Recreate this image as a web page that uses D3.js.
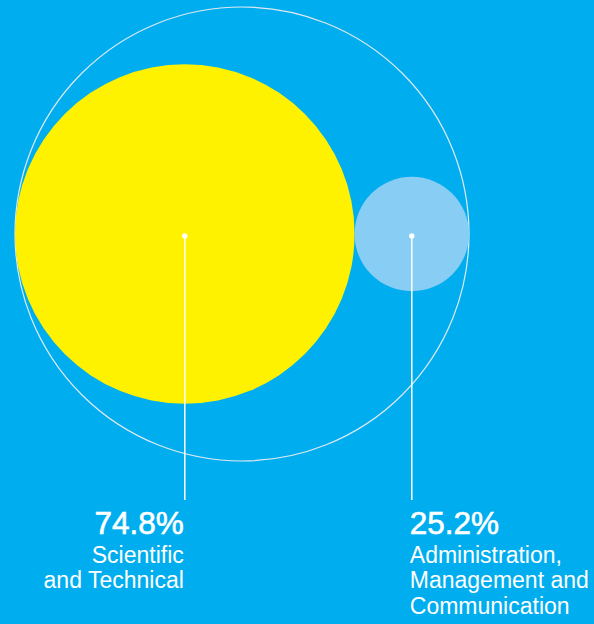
<!DOCTYPE html>
<html>
<head>
<meta charset="utf-8">
<script src="https://cdn.jsdelivr.net/npm/d3@7"></script>
<style>
	html, body { margin: 0; padding: 0; background: #00aeef; }
	svg { display: block; }
</style>
</head>
<body>
<div id="chart"></div>
<script>
/* Data */
const categories = ["Scientific and Technical", "Administration, Management and Communication"];
const shares = [74.8, 25.2];
const labelLines = [["Scientific", "and Technical"], ["Administration,", "Management and", "Communication"]];
const colors = ["#fff200", "#88cdf3"];

const width = 594;
const height = 624;
const cx = 242;
const cy = 234;
const outerR = 227;

const svg = d3.select("#chart").append("svg")
	.attr("width", width)
	.attr("height", height);

// radius proportional to share, diameters add up to outer diameter
const rScale = d3.scaleLinear().domain([0, 100]).range([0, outerR]);

svg.append("circle")
	.attr("cx", cx)
	.attr("cy", cy)
	.attr("r", outerR)
	.attr("fill", "none")
	.attr("stroke", "#dfe9f0")
	.attr("stroke-width", 1.2);

let left = cx - outerR;
const nodes = shares.map((v, i) => {
	const r = rScale(v);
	const n = { value: v, r: r, x: left + r, i: i };
	left += 2 * r;
	return n;
});

svg.selectAll(".bubble")
	.data(nodes)
	.enter()
	.append("circle")
	.attr("class", "bubble")
	.attr("cx", (d) => d.x)
	.attr("cy", cy)
	.attr("r", (d) => d.r)
	.attr("fill", (d) => colors[d.i]);

const lineEnd = 500;

svg.selectAll(".leader")
	.data(nodes)
	.enter()
	.append("line")
	.attr("class", "leader")
	.attr("x1", (d) => d.x)
	.attr("x2", (d) => d.x)
	.attr("y1", cy + 2)
	.attr("y2", lineEnd)
	.attr("stroke", "#fff")
	.attr("stroke-width", 1.5);

svg.selectAll(".dot")
	.data(nodes)
	.enter()
	.append("circle")
	.attr("class", "dot")
	.attr("cx", (d) => d.x)
	.attr("cy", cy + 2)
	.attr("r", 2.7)
	.attr("fill", "#fff");

const labels = svg.selectAll(".label")
	.data(nodes)
	.enter()
	.append("g")
	.attr("class", "label")
	.attr("transform", (d) => "translate(" + (d.i === 0 ? d.x - 1 : d.x - 2) + ",0)")
	.attr("text-anchor", (d) => d.i === 0 ? "end" : "start")
	.attr("fill", "#fff")
	.attr("font-family", "'Liberation Sans', Arial, sans-serif");

// percentages are a touch heavier than the labels
labels.append("text")
	.attr("y", 534)
	.attr("font-size", 31.5)
	.attr("stroke", "#fff")
	.attr("stroke-width", 0.6)
	.text((d) => d3.format(".1f")(d.value) + "%");

labels.each(function(d) {
	const g = d3.select(this);
	labelLines[d.i].forEach((line, j) => {
		g.append("text")
			.attr("y", 562.5 + j * 25.8)
			.attr("font-size", 23)
			.attr("font-weight", 300)
			.text(line);
	});
});
</script>
</body>
</html>
